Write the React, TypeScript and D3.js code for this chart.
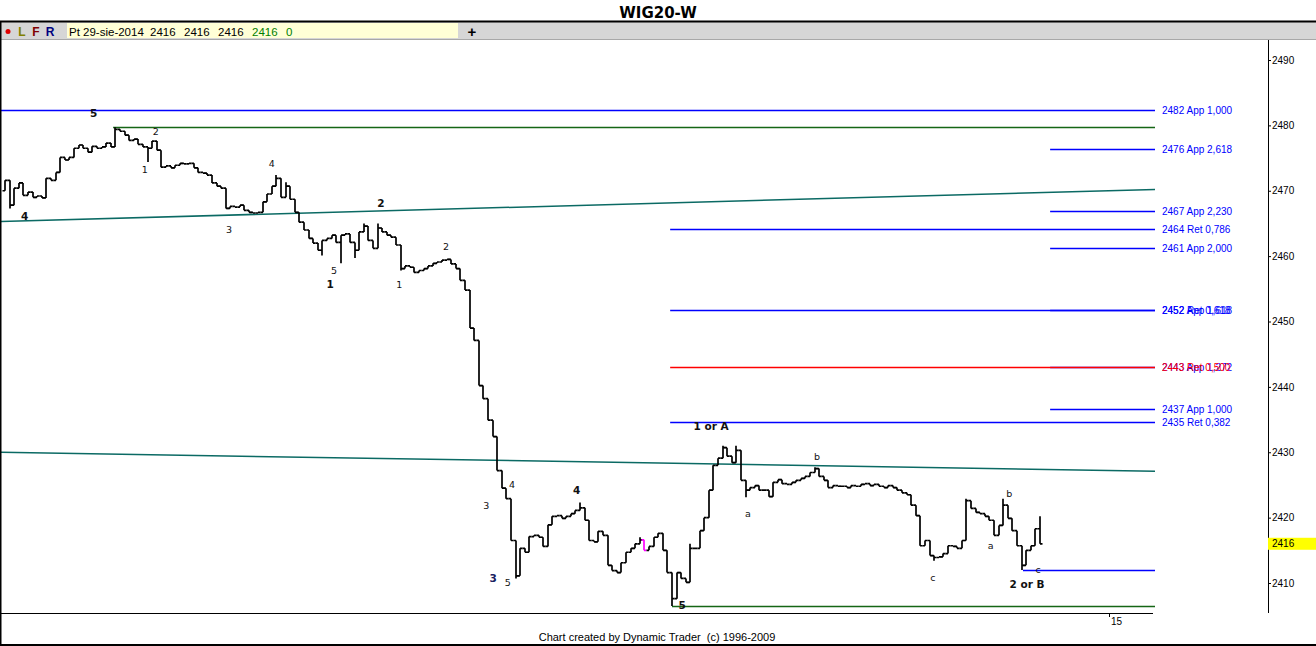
import { useEffect, useRef } from 'react';
import * as d3 from 'd3';

// closing prices, one per bar (open = previous close)
const closes = [
  2471.6, 2467.8, 2470.4, 2471.2, 2469.3, 2469.8, 2469.0, 2469.2, 2468.9, 2471.9,
  2471.6, 2472.8, 2475.1, 2474.7, 2475.1, 2476.5, 2477.0, 2476.5, 2475.9, 2476.8,
  2476.5, 2476.7, 2477.3, 2476.7, 2479.4, 2479.1, 2478.5, 2477.7, 2477.9, 2477.1,
  2476.7, 2476.5, 2477.6, 2476.2, 2473.6, 2473.8, 2473.5, 2473.9, 2474.2, 2474.1,
  2474.2, 2473.5, 2472.8, 2472.7, 2472.4, 2471.2, 2470.7, 2470.4, 2467.3, 2467.6,
  2467.5, 2467.8, 2467.0, 2466.7, 2466.6, 2466.7, 2468.3, 2469.5, 2470.7, 2471.9,
  2469.0, 2470.7, 2468.7, 2466.7, 2465.2, 2464.0, 2462.7, 2462.0, 2460.9, 2462.4,
  2462.7, 2463.2, 2462.1, 2463.2, 2463.4, 2462.1, 2460.9, 2463.7, 2464.6, 2462.4,
  2461.2, 2464.3, 2463.7, 2463.2, 2462.9, 2461.7, 2458.1, 2458.5, 2458.3, 2457.5,
  2457.8, 2458.1, 2458.5, 2458.9, 2459.1, 2459.4, 2459.5, 2458.8, 2458.1, 2456.3,
  2454.8, 2449.0, 2447.1, 2440.2, 2438.2, 2434.9, 2432.4, 2427.2, 2424.5, 2422.9,
  2416.5, 2411.1, 2415.3, 2414.7, 2417.1, 2417.3, 2417.0, 2415.6, 2418.9, 2420.2,
  2420.3, 2419.9, 2420.2, 2420.6, 2421.1, 2421.5, 2419.6, 2416.5, 2416.3, 2417.9,
  2417.3, 2412.7, 2411.9, 2411.6, 2413.1, 2414.7, 2415.3, 2416.0, 2416.6, 2415.0,
  2415.6, 2417.0, 2417.6, 2415.0, 2411.6, 2407.6, 2411.6, 2410.7, 2410.1, 2415.3,
  2415.3, 2418.0, 2420.0, 2424.2, 2428.0, 2429.1, 2430.7, 2429.4, 2428.4, 2430.3,
  2425.7, 2424.2, 2424.6, 2424.9, 2424.2, 2424.2, 2423.2, 2425.4, 2425.8, 2425.2,
  2425.1, 2425.4, 2425.7, 2426.0, 2426.3, 2426.9, 2427.5, 2426.3, 2425.7, 2424.6,
  2424.9, 2424.8, 2424.8, 2424.6, 2424.9, 2424.8, 2425.1, 2425.2, 2424.9, 2425.1,
  2424.8, 2424.6, 2424.9, 2424.6, 2424.2, 2423.8, 2423.5, 2421.9, 2420.3, 2415.7,
  2416.5, 2414.2, 2413.9, 2414.0, 2414.5, 2415.7, 2415.6, 2415.3, 2416.5, 2422.6,
  2421.4, 2420.8, 2420.6, 2420.2, 2419.6, 2417.3, 2418.8, 2421.9, 2419.9, 2418.0,
  2415.7, 2412.7, 2415.0, 2415.7, 2418.3, 2416.0,
];
const firstOpen = 2470.0;

// [bar index, price] of highs / lows reaching beyond open and close
const wickHighs: [number, number][] = [
  [24, 2479.7], [59, 2472.4], [61, 2471.3], [78, 2465.0], [81, 2465.0], [125, 2422.3],
  [138, 2417.0], [149, 2416.0], [156, 2431.0], [159, 2431.0], [176, 2427.7], [209, 2422.9],
  [217, 2422.9], [225, 2420.2],
];
const wickLows: [number, number][] = [
  [1, 2467.3], [31, 2474.4], [69, 2460.1], [73, 2458.9], [76, 2459.7], [86, 2457.8],
  [111, 2410.7], [145, 2406.5], [161, 2423.1], [202, 2413.4], [221, 2412.0],
];
const magentaBars = [139];

const priceTicks = [2410, 2420, 2430, 2440, 2450, 2460, 2470, 2480, 2490];
const timeTicks = [240];
const timeTickLabels = ['15'];
const lastPrice = 2416;

const levelPrices = [2482.3, 2479.7, 2476.4, 2466.9, 2464.1, 2461.2, 2451.7, 2451.7, 2443.1, 2443.1, 2436.6, 2434.6, 2412.0, 2406.5];
const levelStarts = [-1.1, 23.5, 227.2, 227.2, 144.6, 227.2, 144.6, 227.2, 227.2, 144.6, 227.2, 144.6, 221.3, 145];
const levelKinds = ['blue', 'green', 'blue', 'blue', 'blue', 'blue', 'blue', 'blue', 'blue', 'red', 'blue', 'blue', 'blue', 'green'];
const levelLabels = [
  '2482 App 1,000', '', '2476 App 2,618', '2467 App 2,230', '2464 Ret 0,786', '2461 App 2,000',
  '2452 Ret 0,618', '2452 App 1,618', '2443 App 1,272', '2443 Ret 0,500', '2437 App 1,000',
  '2435 Ret 0,382', '', '',
];
const levelEnd = 250;

const trendStarts: [number, number][] = [[-1.1, 2465.3], [-1.1, 2430.0]];
const trendEnds: [number, number][] = [[250, 2470.2], [250, 2427.1]];

const waveText = ['5', '2', '1', '4', '4', '3', '2', '5', '1', '1', '2', '3', '4', '3', '5', '4', '5', '1 or A', 'b', 'a', 'c', 'a', 'b', 'c', '2 or B'];
const waveIndex = [19.3, 32.8, 30.4, 58.0, 4.3, 48.7, 81.7, 71.5, 70.7, 85.7, 95.9, 104.6, 110.2, 106.1, 109.3, 124.3, 147.2, 153.5, 176.5, 161.5, 201.7, 214.3, 218.3, 224.6, 222.2];
const wavePrice = [2481.9, 2479.1, 2473.2, 2474.2, 2466.1, 2464.0, 2468.1, 2457.8, 2455.7, 2455.7, 2461.4, 2421.9, 2425.1, 2410.7, 2410.1, 2424.3, 2406.7, 2434.0, 2429.4, 2420.6, 2410.8, 2415.7, 2423.7, 2412.0, 2409.9];
const waveBold = [1, 0, 0, 0, 1, 0, 1, 0, 1, 0, 0, 0, 0, 1, 0, 1, 1, 1, 0, 0, 0, 0, 0, 0, 1];

const colors: Record<string, string> = { blue: '#0000ff', green: '#156615', red: '#ff0000' };
const FONT = '"Liberation Sans", Arial, sans-serif';

export default function App() {
  const svgRef = useRef<SVGSVGElement | null>(null);

  useEffect(() => {
    const svg = svgRef.current;
    if (!svg) return;
    const width = 1316;
    const height = 646;
    const plot = { left: 1, right: 1268, top: 40, bottom: 613 };

    const x = d3.scaleLinear().domain([0, closes.length - 1]).range([5, 1040]);
    const y = d3.scaleLinear().domain([2410, 2490]).range([583, 60]);

    const root = d3.select(svg);
    root.selectAll('*').remove();
    root.attr('viewBox', `0 0 ${width} ${height}`);

    root.append('rect').attr('width', width).attr('height', height).attr('fill', '#fff');

    // title + toolbar
    root.append('text').attr('x', 658).attr('y', 18).attr('text-anchor', 'middle')
      .attr('font-family', '"DejaVu Sans", Verdana, sans-serif').attr('font-weight', 'bold')
      .attr('font-size', 15).text('WIG20-W');
    root.append('rect').attr('x', 0).attr('y', 22).attr('width', width).attr('height', 17).attr('fill', '#d6d6d6');
    root.append('line').attr('x1', 0).attr('x2', width).attr('y1', 21.5).attr('y2', 21.5).attr('stroke', '#000').attr('stroke-width', 2);
    root.append('line').attr('x1', 0).attr('x2', width).attr('y1', 39.5).attr('y2', 39.5).attr('stroke', '#a8a8a8');
    root.append('rect').attr('x', 67).attr('y', 23).attr('width', 391).attr('height', 15).attr('fill', '#ffffd6');
    root.append('circle').attr('cx', 8).attr('cy', 31.5).attr('r', 2.5).attr('fill', '#e00000');
    const tb = root.append('g').attr('font-family', FONT).attr('font-size', 12);
    [['L', '#808000', 22], ['F', '#800000', 36], ['R', '#000080', 50]].forEach(([t, c, px]) => {
      tb.append('text').attr('x', px as number).attr('y', 36).attr('text-anchor', 'middle')
        .attr('font-weight', 'bold').attr('fill', c as string).text(t as string);
    });
    const boxTexts: [string, number, string][] = [
      ['Pt 29-sie-2014', 69, '#000'], ['2416', 150, '#000'], ['2416', 184, '#000'],
      ['2416', 218, '#000'], ['2416', 252, '#008000'], ['0', 286, '#008000'],
    ];
    boxTexts.forEach(([t, px, c]) => {
      tb.append('text').attr('x', px).attr('y', 35.5).attr('fill', c).attr('font-size', 11.5).text(t);
    });
    tb.append('text').attr('x', 472).attr('y', 37).attr('text-anchor', 'middle').attr('font-weight', 'bold')
      .attr('font-size', 15).text('+');

    // plot area
    root.append('clipPath').attr('id', 'plotclip').append('rect')
      .attr('x', plot.left).attr('y', plot.top).attr('width', plot.right - plot.left).attr('height', plot.bottom - plot.top);
    const g = root.append('g').attr('clip-path', 'url(#plotclip)');

    trendStarts.forEach((s, k) => {
      g.append('line').attr('x1', x(s[0])).attr('y1', y(s[1]))
        .attr('x2', x(trendEnds[k][0])).attr('y2', y(trendEnds[k][1]))
        .attr('stroke', '#0b6a64').attr('stroke-width', 1.5);
    });

    levelPrices.forEach((v, k) => {
      const yy = Math.round(y(v)) + 0.5;
      g.append('line').attr('x1', x(levelStarts[k])).attr('x2', x(levelEnd))
        .attr('y1', yy).attr('y2', yy).attr('stroke', colors[levelKinds[k]]).attr('stroke-width', 1.3);
      if (levelLabels[k]) {
        g.append('text').attr('x', x(levelEnd) + 7).attr('y', yy + 3.5)
          .attr('font-family', FONT).attr('font-size', 10).attr('fill', colors[levelKinds[k]])
          .text(levelLabels[k]);
      }
    });

    // OHLC bars
    const highs = new Map(wickHighs);
    const lows = new Map(wickLows);
    const bars = g.append('g').attr('fill', 'none').attr('stroke-width', 1.7);
    closes.forEach((c, i) => {
      const o = i === 0 ? firstOpen : closes[i - 1];
      const hi = Math.max(o, c, highs.get(i) ?? -Infinity);
      const lo = Math.min(o, c, lows.get(i) ?? Infinity);
      const bx = Math.round(x(i));
      const col = magentaBars.includes(i) ? '#ff00ff' : '#000';
      const path = `M${bx},${y(hi)}V${y(lo)}M${bx - 2.5},${y(o)}H${bx}M${bx},${y(c)}H${bx + 2.5}`;
      bars.append('path').attr('d', path).attr('stroke', col);
    });

    // wave labels
    waveText.forEach((t, k) => {
      g.append('text').attr('x', x(waveIndex[k])).attr('y', y(wavePrice[k]))
        .attr('text-anchor', 'middle').attr('dominant-baseline', 'central')
        .attr('font-family', '"DejaVu Sans", Verdana, sans-serif')
        .attr('font-size', waveBold[k] ? 10.5 : 9.5).attr('font-weight', waveBold[k] ? 'bold' : 'normal')
        .attr('fill', t === '3' && waveBold[k] ? '#1a2060' : '#111')
        .text(t);
    });

    // axes
    root.append('line').attr('x1', plot.right + 0.5).attr('x2', plot.right + 0.5)
      .attr('y1', plot.top).attr('y2', plot.bottom).attr('stroke', '#000');
    root.append('line').attr('x1', 0).attr('x2', 1153).attr('y1', plot.bottom + 0.5).attr('y2', plot.bottom + 0.5)
      .attr('stroke', '#000');

    root.append('g').attr('transform', `translate(${plot.right},0)`)
      .call(d3.axisRight(y).tickValues(priceTicks).tickSize(3).tickPadding(1).tickFormat((d) => `${d}`))
      .call((a) => a.select('.domain').remove())
      .call((a) => a.selectAll('text').attr('font-family', FONT).attr('font-size', 10).attr('fill', '#000'))
      .call((a) => a.selectAll('line').attr('stroke', '#000'));

    root.append('rect').attr('x', plot.right).attr('y', y(lastPrice) - 6).attr('width', width - plot.right)
      .attr('height', 12).attr('fill', '#ffff00');
    root.append('text').attr('x', plot.right + 4).attr('y', y(lastPrice) + 3.5)
      .attr('font-family', FONT).attr('font-size', 10).text(`${lastPrice}`);

    root.append('g').attr('transform', `translate(0,${plot.bottom})`)
      .call(d3.axisBottom(x).tickValues(timeTicks).tickSize(4).tickPadding(1).tickFormat((_d, k) => timeTickLabels[k]))
      .call((a) => a.select('.domain').remove())
      .call((a) => a.selectAll('text').attr('font-family', FONT).attr('font-size', 10).attr('fill', '#000').attr('dx', 7))
      .call((a) => a.selectAll('line').attr('stroke', '#000'));

    root.append('text').attr('x', 657).attr('y', 641).attr('text-anchor', 'middle')
      .attr('font-family', FONT).attr('font-size', 11).style('white-space', 'pre')
      .text('Chart created by Dynamic Trader  (c) 1996-2009');

    // frame
    root.append('line').attr('x1', 0.5).attr('x2', 0.5).attr('y1', 22).attr('y2', height).attr('stroke', '#000').attr('stroke-width', 2);
    root.append('line').attr('x1', 0).attr('x2', width).attr('y1', 645).attr('y2', 645).attr('stroke', '#000').attr('stroke-width', 2);
  }, []);

  return (
    <svg
      ref={svgRef}
      width={1316}
      height={646}
      style={{ position: 'fixed', left: 0, top: 0, display: 'block' }}
    />
  );
}
